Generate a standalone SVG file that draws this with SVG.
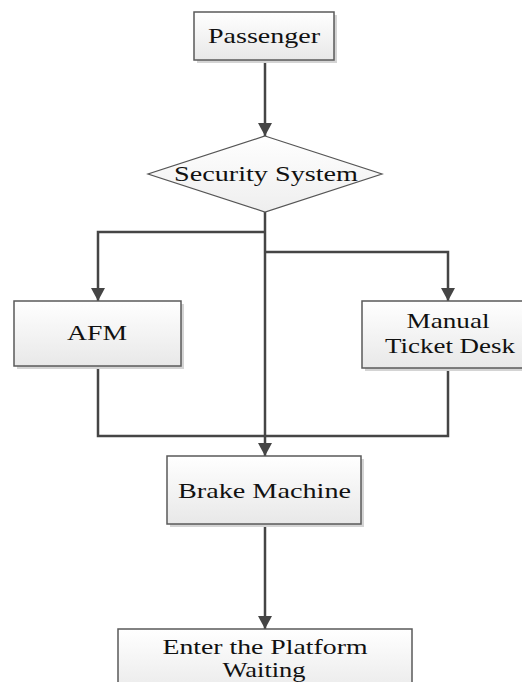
<svg xmlns="http://www.w3.org/2000/svg" width="522" height="682" viewBox="0 0 522 682">
<style>
.box{fill:url(#g);stroke:#5a5a5a;stroke-width:1.5}
.sh{fill:#d4d4d4}
.t{font-family:'Liberation Serif','DejaVu Serif','Times New Roman',serif;font-size:22px;fill:#111;text-anchor:middle}
.c{fill:none;stroke:#454545;stroke-width:2.5}
</style>
<defs>
<linearGradient id="g" x1="0" y1="0" x2="0" y2="1">
<stop offset="0" stop-color="#ffffff"/>
<stop offset="1" stop-color="#e8e8e8"/>
</linearGradient>
<linearGradient id="gd" x1="0" y1="0" x2="0" y2="1">
<stop offset="0" stop-color="#ffffff"/>
<stop offset="1" stop-color="#eeeeee"/>
</linearGradient>
<marker id="ad" markerUnits="userSpaceOnUse" markerWidth="16" markerHeight="16" viewBox="0 0 16 16" refX="8" refY="15" orient="0">
<path d="M1,2 L15,2 L8,15 Z" fill="#454545"/>
</marker>
</defs>
<g id="connectors">
<path class="c" d="M265,61 V136" marker-end="url(#ad)"/>
<path class="c" d="M265,212 V456" marker-end="url(#ad)"/>
<path class="c" d="M265,232 H98 V301" marker-end="url(#ad)"/>
<path class="c" d="M265,252 H448 V301" marker-end="url(#ad)"/>
<path class="c" d="M98,366 V436 H448 V368" stroke-width="2"/>
<path class="c" d="M265,524 V629" marker-end="url(#ad)"/>
</g>
<g id="passenger">
<rect class="sh" x="197" y="15" width="140" height="48"/>
<rect class="box" x="194" y="12" width="140" height="48"/>
<text class="t" x="264" y="43" textLength="112" lengthAdjust="spacingAndGlyphs">Passenger</text>
</g>
<g id="security">
<path d="M265,136 L382,174 L265,212 L148,174 Z" fill="url(#gd)" stroke="#555" stroke-width="1.2"/>
<text class="t" x="266" y="181" textLength="184" lengthAdjust="spacingAndGlyphs">Security System</text>
</g>
<g id="afm">
<rect class="sh" x="17" y="304" width="167" height="65"/>
<rect class="box" x="14" y="301" width="167" height="65"/>
<text class="t" x="97" y="340" textLength="60" lengthAdjust="spacingAndGlyphs">AFM</text>
</g>
<g id="manual">
<rect class="sh" x="365" y="304" width="160" height="67"/>
<rect class="box" x="362" y="301" width="162" height="67"/>
<text class="t" x="448" y="328" textLength="83" lengthAdjust="spacingAndGlyphs">Manual</text>
<text class="t" x="450" y="353" textLength="130" lengthAdjust="spacingAndGlyphs">Ticket Desk</text>
</g>
<g id="brake">
<rect class="sh" x="170" y="459" width="194" height="68"/>
<rect class="box" x="167" y="456" width="194" height="68"/>
<text class="t" x="264.5" y="498" textLength="173" lengthAdjust="spacingAndGlyphs">Brake Machine</text>
</g>
<g id="enter">
<rect class="box" x="118" y="629" width="294" height="70"/>
<text class="t" x="265" y="654" textLength="205" lengthAdjust="spacingAndGlyphs">Enter the Platform</text>
<text class="t" x="264" y="677" textLength="83" lengthAdjust="spacingAndGlyphs">Waiting</text>
</g>
</svg>
